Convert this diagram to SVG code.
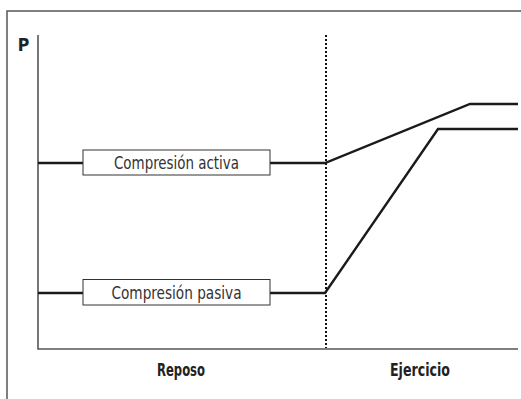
<svg xmlns="http://www.w3.org/2000/svg" width="521" height="399" viewBox="0 0 521 399">
<style>
.frame{fill:none;stroke:#555;stroke-width:1.5}
.axis{fill:none;stroke:#555;stroke-width:1.6}
.curve{fill:none;stroke:#1a1a1a;stroke-width:2.4;stroke-linejoin:miter}
.box{fill:#fff;stroke:#333;stroke-width:1}
.lbl{font-family:"DejaVu Sans Condensed","Liberation Sans",sans-serif;font-size:17px;fill:#333;text-anchor:middle}
.bold{font-family:"DejaVu Sans Condensed","Liberation Sans",sans-serif;font-size:17.5px;font-weight:bold;fill:#222;text-anchor:middle}
.dot{fill:none;stroke:#111;stroke-width:2;stroke-dasharray:2 2}
</style>
<rect class="frame" x="7" y="11" width="530" height="400"/>
<g id="axes">
<polyline class="axis" points="38,35 38,349 518,349"/>
<text class="bold" x="23.5" y="51">P</text>
</g>
<line id="divider" class="dot" x1="326" y1="35" x2="326" y2="348"/>
<g id="connectors">
<polyline class="curve" points="38,163 83,163"/>
<polyline class="curve" points="270,163 325,163 470,104 518,104"/>
<polyline class="curve" points="38,293 83,293"/>
<polyline class="curve" points="270,293 325,293 438,129 518,129"/>
</g>
<g id="activa">
<rect class="box" x="83" y="150" width="187" height="25"/>
<text class="lbl" x="176.5" y="168.5" textLength="125" lengthAdjust="spacingAndGlyphs">Compresión activa</text>
</g>
<g id="pasiva">
<rect class="box" x="83" y="279.5" width="187" height="25.5"/>
<text class="lbl" x="176.5" y="298.5" textLength="130" lengthAdjust="spacingAndGlyphs">Compresión pasiva</text>
</g>
<g id="reposo"><text class="bold" x="181" y="376" textLength="48" lengthAdjust="spacingAndGlyphs">Reposo</text></g>
<g id="ejercicio"><text class="bold" x="420" y="376" textLength="60" lengthAdjust="spacingAndGlyphs">Ejercicio</text></g>
</svg>
